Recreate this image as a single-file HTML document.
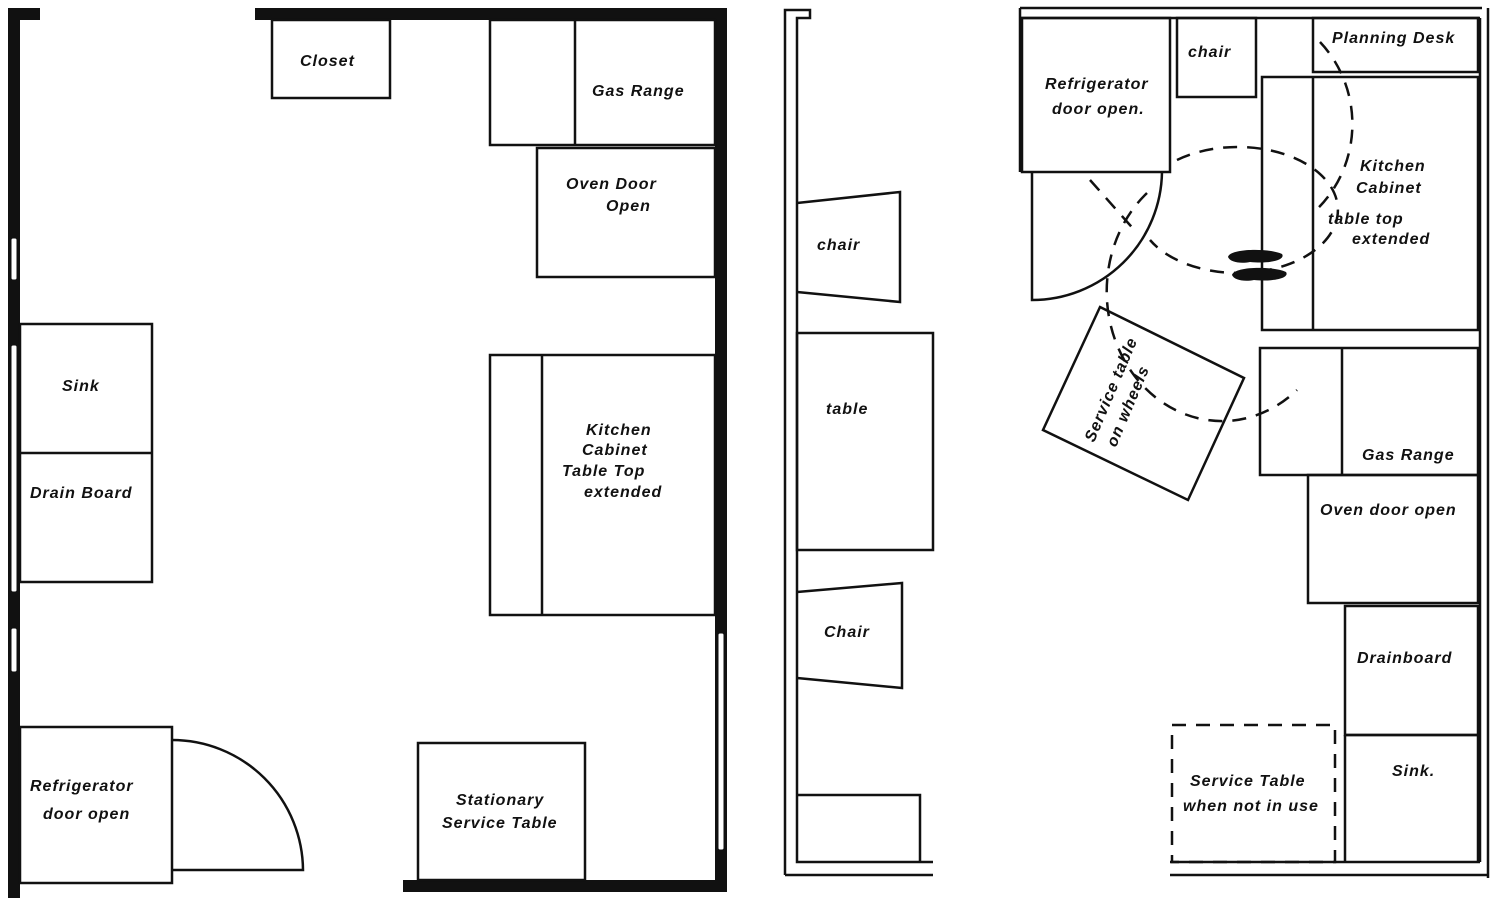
<!DOCTYPE html>
<html><head><meta charset="utf-8"><style>
html,body{margin:0;padding:0;background:#fff;}
svg{display:block;}
text{font-family:"Liberation Sans",sans-serif;font-style:italic;font-weight:bold;font-size:16px;fill:#111;letter-spacing:1px;}
</style></head><body>
<svg width="1500" height="901" viewBox="0 0 1500 901" xmlns="http://www.w3.org/2000/svg">
<g fill="#111">
<rect x="8" y="8" width="32" height="12"/>
<rect x="8" y="8" width="12" height="890"/>
<rect x="255" y="8" width="472" height="12"/>
<rect x="715" y="8" width="12" height="884"/>
<rect x="403" y="880" width="324" height="12"/>
</g>
<g fill="#fff" stroke="#111" stroke-width="1">
<rect x="11" y="238" width="6" height="42" rx="2"/>
<rect x="11" y="345" width="6" height="247" rx="2"/>
<rect x="11" y="628" width="6" height="44" rx="2"/>
<rect x="718" y="633" width="6" height="217" rx="2"/>
</g>
<g fill="none" stroke="#111" stroke-width="2.5">
<rect x="272" y="20" width="118" height="78"/>
<rect x="490" y="20" width="225" height="125"/>
<path d="M575 20V145"/>
<rect x="537" y="148" width="178" height="129"/>
<rect x="490" y="355" width="225" height="260"/>
<path d="M542 355V615"/>
<rect x="20" y="324" width="132" height="258"/>
<path d="M20 453H152"/>
<rect x="418" y="743" width="167" height="137"/>
<rect x="20" y="727" width="152" height="156"/>
<path d="M172 740A131 131 0 0 1 303 870H172"/>
<path d="M785 875V10H810V18H797V862H933M785 875H933"/>
<path d="M797 203L900 192V302L797 292"/>
<rect x="797" y="333" width="136" height="217"/>
<path d="M797 592L902 583V688L797 678"/>
<path d="M797 795H920V862"/>
<path d="M1020 8H1482M1020 18H1480M1020 8V172M1488 8V878M1480 18V862M1170 862H1480M1170 875H1488"/>
<rect x="1022" y="18" width="148" height="154"/>
<rect x="1177" y="18" width="79" height="79"/>
<rect x="1313" y="18" width="165" height="54"/>
<rect x="1262" y="77" width="216" height="253"/>
<path d="M1313 77V330"/>
<rect x="1260" y="348" width="218" height="127"/>
<path d="M1342 348V475"/>
<rect x="1308" y="475" width="170" height="128"/>
<rect x="1345" y="606" width="133" height="129"/>
<path d="M1345 735H1478V862M1345 735V862"/>
<path d="M1032 172V300A130 130 0 0 0 1162 172"/>
<path d="M1100 307L1244 378L1188 500L1043 430Z"/>
</g>
<g fill="none" stroke="#111" stroke-width="2.5" stroke-dasharray="14 10">
<rect x="1172" y="725" width="163" height="137"/>
<!-- small ellipse -->
<path d="M1177 160A100 63 0 1 1 1150 240"/>
<!-- big lower circle -->
<path d="M1147 193A113 127 0 0 0 1297 390"/>
<!-- large right arc -->
<path d="M1320 42A115 118 0 0 1 1313 213"/>
<path d="M1090 180L1137 233"/>
</g>
<g fill="#111">
<path d="M1228 257C1230 248 1270 248 1282 254C1286 260 1270 264 1250 262C1240 264 1230 262 1228 257Z"/>
<path d="M1232 275C1234 266 1274 266 1286 272C1290 278 1274 282 1254 280C1244 282 1234 280 1232 275Z"/>
</g>
<text x="300" y="66">Closet</text>
<text x="592" y="96">Gas Range</text>
<text x="566" y="189">Oven Door</text>
<text x="606" y="211">Open</text>
<text x="586" y="435">Kitchen</text>
<text x="582" y="455">Cabinet</text>
<text x="562" y="476">Table Top</text>
<text x="584" y="497">extended</text>
<text x="62" y="391">Sink</text>
<text x="30" y="498">Drain Board</text>
<text x="30" y="791">Refrigerator</text>
<text x="43" y="819">door open</text>
<text x="456" y="805">Stationary</text>
<text x="442" y="828">Service Table</text>
<text x="817" y="250" font-size="14">chair</text>
<text x="826" y="414" font-size="14">table</text>
<text x="824" y="637" font-size="14">Chair</text>
<text x="1045" y="89" font-size="14">Refrigerator</text>
<text x="1052" y="114" font-size="14">door open.</text>
<text x="1188" y="57" font-size="14">chair</text>
<text x="1332" y="43">Planning Desk</text>
<text x="1360" y="171">Kitchen</text>
<text x="1356" y="193">Cabinet</text>
<text x="1328" y="224" font-size="14">table top</text>
<text x="1352" y="244" font-size="14">extended</text>
<text x="1362" y="460" font-size="15">Gas Range</text>
<text x="1320" y="515" font-size="15">Oven door open</text>
<text x="1357" y="663" font-size="15">Drainboard</text>
<text x="1392" y="776" font-size="15">Sink.</text>
<text x="1190" y="786" font-size="15">Service Table</text>
<text x="1183" y="811" font-size="13">when not in use</text>
<g transform="translate(1094,443) rotate(-67)"><text font-size="12" letter-spacing="0">Service table</text><text x="4" y="22" font-size="12" letter-spacing="0">on wheels</text></g>
</svg>
</body></html>
